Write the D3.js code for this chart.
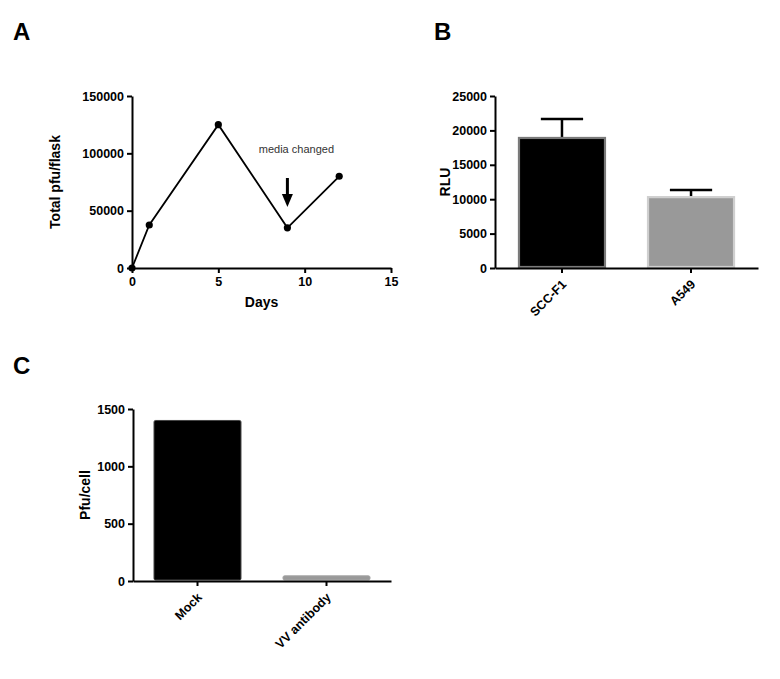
<!DOCTYPE html>
<html>
<head>
<meta charset="utf-8">
<script src="https://cdn.jsdelivr.net/npm/d3@7"></script>
<style>
  body { margin: 0; background: #fff; }
  svg { font-family: "Liberation Sans", Arial, sans-serif; }
  .axis path, .axis line { stroke: #000; stroke-width: 2; }
  .axis text { font-family: "Liberation Sans", Arial, sans-serif; font-size: 12.5px; font-weight: bold; fill: #000; }
  .title { font-size: 14px; font-weight: bold; }
  .panel { font-size: 24px; font-weight: bold; }
</style>
</head>
<body>
<div id="chart"></div>
<script>
// panel A - growth curve
var days = [0, 1, 5, 9, 12];
var pfuFlask = [0, 37500, 125000, 35000, 80000];
var daysTicks = [0, 5, 10, 15];
var pfuTicks = [0, 50000, 100000, 150000];

// panel B - luciferase
var cellLines = ["SCC-F1", "A549"];
var rlu = [18900, 10300];
var rluErr = [2750, 1050];
var rluTicks = [0, 5000, 10000, 15000, 20000, 25000];

// panel C - neutralisation
var treatments = ["Mock", "VV antibody"];
var pfuCell = [1400, 45];
var pfuCellTicks = [0, 500, 1000, 1500];

var w = 780, h = 679;
var fmt = d3.format("d");

var svg = d3.select("#chart")
    .append("svg")
    .attr("width", w)
    .attr("height", h);

// panel letters
svg.append("text").attr("class", "panel").attr("x", 13).attr("y", 40).text("A");
svg.append("text").attr("class", "panel").attr("x", 434).attr("y", 40).text("B");
svg.append("text").attr("class", "panel").attr("x", 13).attr("y", 374).text("C");

// rotated category labels, end of text sitting just under the tick
function slant(g) {
    g.selectAll(".tick text")
        .attr("y", 0)
        .attr("dy", "0.35em")
        .attr("text-anchor", "end")
        .attr("transform", "translate(2,14) rotate(-45)");
}

// ---------- A ----------
var xA = d3.scaleLinear().domain([0, 15]).range([132, 391]);
var yA = d3.scaleLinear().domain([0, 150000]).range([268, 96]);

svg.append("g")
    .attr("class", "axis")
    .attr("transform", "translate(0,268)")
    .call(d3.axisBottom(xA).tickValues(daysTicks).tickFormat(fmt).tickSize(5).tickSizeOuter(0).tickPadding(4));

svg.append("g")
    .attr("class", "axis")
    .attr("transform", "translate(132,0)")
    .call(d3.axisLeft(yA).tickValues(pfuTicks).tickFormat(fmt).tickSize(5).tickSizeOuter(0).tickPadding(3));

var ptsA = days.map(function (d, i) { return [d, pfuFlask[i]]; });

svg.append("path")
    .datum(ptsA)
    .attr("fill", "none")
    .attr("stroke", "#000")
    .attr("stroke-width", 1.8)
    .attr("d", d3.line()
        .x(function (d) { return xA(d[0]); })
        .y(function (d) { return yA(d[1]); }));

svg.selectAll(".dotA")
    .data(ptsA)
    .enter()
    .append("circle")
    .attr("class", "dotA")
    .attr("cx", function (d) { return xA(d[0]); })
    .attr("cy", function (d) { return yA(d[1]); })
    .attr("r", 3.6)
    .attr("fill", "#000");

// media changed annotation
var ax = xA(9);
svg.append("text")
    .attr("x", ax + 9)
    .attr("y", 153)
    .attr("text-anchor", "middle")
    .style("font-size", "11px")
    .style("fill", "#333")
    .text("media changed");
svg.append("line")
    .attr("x1", ax).attr("x2", ax)
    .attr("y1", 178).attr("y2", 196)
    .attr("stroke", "#000").attr("stroke-width", 3);
svg.append("path")
    .attr("d", "M" + (ax - 5.5) + ",194L" + (ax + 5.5) + ",194L" + ax + ",207Z")
    .attr("fill", "#000");

svg.append("text")
    .attr("class", "title")
    .attr("x", xA(7.5))
    .attr("y", 307)
    .attr("text-anchor", "middle")
    .text("Days");

svg.append("text")
    .attr("class", "title")
    .attr("transform", "translate(60,182) rotate(-90)")
    .attr("text-anchor", "middle")
    .text("Total pfu/flask");

// ---------- B ----------
var xB = d3.scaleBand().domain(cellLines).range([495, 758]).paddingInner(0.318).paddingOuter(0.178);
var yB = d3.scaleLinear().domain([0, 25000]).range([268, 96]);

var fillsB = ["#000", "#999"];
var strokesB = ["#7a7a7a", "#cfcfcf"];

// error bars (upper only)
cellLines.forEach(function (c, i) {
    var cx = xB(c) + xB.bandwidth() / 2;
    svg.append("line")
        .attr("x1", cx).attr("x2", cx)
        .attr("y1", yB(rlu[i])).attr("y2", yB(rlu[i] + rluErr[i]))
        .attr("stroke", "#000").attr("stroke-width", 2.5);
    svg.append("line")
        .attr("x1", cx - xB.bandwidth() * 0.24).attr("x2", cx + xB.bandwidth() * 0.24)
        .attr("y1", yB(rlu[i] + rluErr[i])).attr("y2", yB(rlu[i] + rluErr[i]))
        .attr("stroke", "#000").attr("stroke-width", 2.5);
});

svg.selectAll(".barB")
    .data(rlu)
    .enter()
    .append("rect")
    .attr("class", "barB")
    .attr("x", function (d, i) { return xB(cellLines[i]) + 1; })
    .attr("y", function (d) { return yB(d); })
    .attr("width", xB.bandwidth() - 2)
    .attr("height", function (d) { return yB(0) - yB(d) - 1; })
    .attr("fill", function (d, i) { return fillsB[i]; })
    .attr("stroke", function (d, i) { return strokesB[i]; })
    .attr("stroke-width", 2.2);

svg.append("g")
    .attr("class", "axis")
    .attr("transform", "translate(0,268)")
    .call(d3.axisBottom(xB).tickSize(5).tickSizeOuter(0))
    .call(slant);

svg.append("g")
    .attr("class", "axis")
    .attr("transform", "translate(495,0)")
    .call(d3.axisLeft(yB).tickValues(rluTicks).tickFormat(fmt).tickSize(5).tickSizeOuter(0).tickPadding(3));

svg.append("text")
    .attr("class", "title")
    .attr("transform", "translate(450,182) rotate(-90)")
    .attr("text-anchor", "middle")
    .text("RLU");

// ---------- C ----------
var xC = d3.scaleBand().domain(treatments).range([133, 391]).paddingInner(0.318).paddingOuter(0.159);
var yC = d3.scaleLinear().domain([0, 1500]).range([581, 409]);

var fillsC = ["#000", "#999"];
var strokesC = ["#444", "#a5a5a5"];

svg.selectAll(".barC")
    .data(pfuCell)
    .enter()
    .append("rect")
    .attr("class", "barC")
    .attr("x", function (d, i) { return xC(treatments[i]) + 0.5; })
    .attr("y", function (d) { return yC(d); })
    .attr("width", xC.bandwidth() - 1)
    .attr("height", function (d) { return yC(0) - yC(d) - 1; })
    .attr("rx", 1.5)
    .attr("fill", function (d, i) { return fillsC[i]; })
    .attr("stroke", function (d, i) { return strokesC[i]; })
    .attr("stroke-width", 1);

svg.append("g")
    .attr("class", "axis")
    .attr("transform", "translate(0,581)")
    .call(d3.axisBottom(xC).tickSize(5).tickSizeOuter(0))
    .call(slant);

svg.append("g")
    .attr("class", "axis")
    .attr("transform", "translate(133,0)")
    .call(d3.axisLeft(yC).tickValues(pfuCellTicks).tickFormat(fmt).tickSize(5).tickSizeOuter(0).tickPadding(3));

svg.append("text")
    .attr("class", "title")
    .attr("transform", "translate(90,495) rotate(-90)")
    .attr("text-anchor", "middle")
    .text("Pfu/cell");
</script>
</body>
</html>
